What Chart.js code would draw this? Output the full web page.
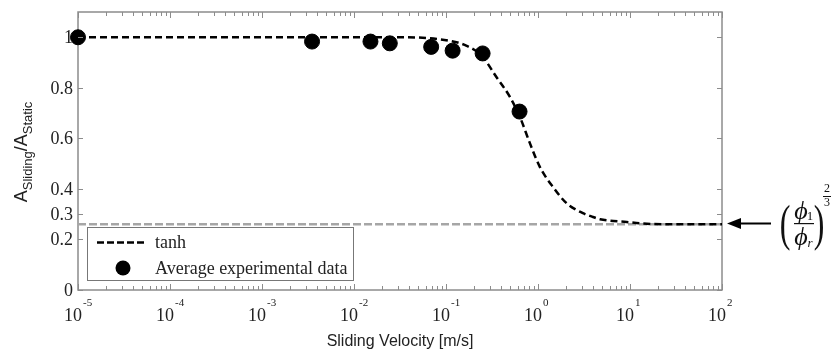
<!DOCTYPE html>
<html>
<head>
<meta charset="utf-8">
<script src="https://cdn.jsdelivr.net/npm/chart.js@4.4.1/dist/chart.umd.min.js"></script>
<style>
  body { margin: 0; background: #fff; }
  #wrap { width: 832px; height: 353px; }
</style>
</head>
<body>
<div id="wrap"><canvas id="grafico" width="832" height="353"></canvas></div>
<script>
// Datos
const velExp = [1e-5, 0.0035, 0.0151, 0.0245, 0.069, 0.118, 0.25, 0.63];
const areaExp = [1.0, 0.983, 0.983, 0.976, 0.962, 0.947, 0.936, 0.706];

const velTanh = [1e-5, 1e-3, 0.01, 0.0316, 0.11, 0.168, 0.244, 0.356, 0.497, 0.637, 0.818, 1.05, 1.46, 2.05, 3.08, 3.96, 4.72, 9.2, 13.8, 30, 100];
const areaTanh = [1.0, 1.0, 1.0, 1.0, 0.986, 0.966, 0.927, 0.841, 0.763, 0.684, 0.58, 0.486, 0.407, 0.343, 0.304, 0.289, 0.28, 0.269, 0.263, 0.26, 0.26];

const limiteVel = [1e-5, 1e2];
const limiteArea = [0.26, 0.26];

const ticksY = [0, 0.2, 0.3, 0.4, 0.6, 0.8, 1];
const decadas = [-5, -4, -3, -2, -1, 0, 1, 2];

const serif = "'Liberation Serif', 'Times New Roman', serif";
const sans = "'Liberation Sans', Arial, sans-serif";

// Se arma el marco, ticks y textos a mano
const ejesPlugin = {
    id: 'ejes',
    beforeDatasetsDraw(chart) {
        const { ctx, chartArea: a } = chart;
        ctx.save();
        ctx.strokeStyle = '#8c8c8c';
        ctx.lineWidth = 1.5;
        ctx.strokeRect(a.left, a.top, a.right - a.left, a.bottom - a.top);
        ctx.restore();
    },
    afterDraw(chart) {
        const { ctx, chartArea: a, scales } = chart;
        const x = scales.x, y = scales.y;
        ctx.save();
        ctx.strokeStyle = '#8c8c8c';
        ctx.lineWidth = 1;

        // ticks eje x (log)
        decadas.forEach((d, i) => {
            const px = Math.round(x.getPixelForValue(Math.pow(10, d))) + 0.5;
            ctx.beginPath();
            ctx.moveTo(px, a.bottom); ctx.lineTo(px, a.bottom - 6);
            ctx.moveTo(px, a.top); ctx.lineTo(px, a.top + 6);
            ctx.stroke();
            if (i < decadas.length - 1) {
                for (let m = 2; m <= 9; m++) {
                    const pm = Math.round(x.getPixelForValue(m * Math.pow(10, d))) + 0.5;
                    ctx.beginPath();
                    ctx.moveTo(pm, a.bottom); ctx.lineTo(pm, a.bottom - 4);
                    ctx.moveTo(pm, a.top); ctx.lineTo(pm, a.top + 4);
                    ctx.stroke();
                }
            }
        });

        // ticks eje y
        ticksY.forEach(v => {
            const py = Math.round(y.getPixelForValue(v)) + 0.5;
            ctx.beginPath();
            ctx.moveTo(a.left, py); ctx.lineTo(a.left + 5, py);
            ctx.moveTo(a.right, py); ctx.lineTo(a.right - 5, py);
            ctx.stroke();
        });

        // etiquetas eje y
        ctx.fillStyle = '#222';
        ctx.font = '18px ' + serif;
        ctx.textAlign = 'right';
        ctx.textBaseline = 'middle';
        ticksY.forEach(v => {
            ctx.fillText(String(v), a.left - 5, y.getPixelForValue(v) + 1);
        });

        // etiquetas eje x: 10 con exponente
        ctx.textBaseline = 'alphabetic';
        decadas.forEach(d => {
            const px = x.getPixelForValue(Math.pow(10, d));
            ctx.font = '18px ' + serif;
            ctx.textAlign = 'right';
            ctx.fillText('10', px + 4, 321);
            ctx.font = '11px ' + serif;
            ctx.textAlign = 'left';
            ctx.fillText(String(d), px + 5, 306);
        });

        // titulo eje x
        ctx.font = '16px ' + sans;
        ctx.textAlign = 'center';
        ctx.fillText('Sliding Velocity [m/s]', (a.left + a.right) / 2, 346);

        // titulo eje y con subindices
        ctx.translate(27, 152);
        ctx.rotate(-Math.PI / 2);
        const partes = [['A', 18, 0], ['Sliding', 13, 5], ['/A', 18, 0], ['Static', 13, 5]];
        let ancho = 0;
        partes.forEach(p => { ctx.font = p[1] + 'px ' + sans; ancho += ctx.measureText(p[0]).width; });
        let cx = -ancho / 2;
        ctx.textAlign = 'left';
        partes.forEach(p => {
            ctx.font = p[1] + 'px ' + sans;
            ctx.fillText(p[0], cx, p[2]);
            cx += ctx.measureText(p[0]).width;
        });
        ctx.setTransform(1, 0, 0, 1, 0, 0);

        // leyenda
        ctx.fillStyle = '#fff';
        ctx.fillRect(88, 228, 266, 53);
        ctx.strokeStyle = '#777';
        ctx.lineWidth = 1;
        ctx.strokeRect(87.5, 227.5, 266, 53);
        ctx.strokeStyle = '#000';
        ctx.lineWidth = 2.5;
        ctx.setLineDash([7, 3]);
        ctx.beginPath();
        ctx.moveTo(97, 242.5); ctx.lineTo(147, 242.5);
        ctx.stroke();
        ctx.setLineDash([]);
        ctx.fillStyle = '#000';
        ctx.beginPath();
        ctx.arc(123, 268, 7.5, 0, Math.PI * 2);
        ctx.fill();
        ctx.fillStyle = '#222';
        ctx.font = '18px ' + serif;
        ctx.fillText('tanh', 155, 248);
        ctx.fillText('Average experimental data', 155, 274);

        // flecha y formula de la derecha
        ctx.strokeStyle = '#000';
        ctx.lineWidth = 2;
        ctx.beginPath();
        ctx.moveTo(771, 223.5); ctx.lineTo(738, 223.5);
        ctx.stroke();
        ctx.fillStyle = '#000';
        ctx.beginPath();
        ctx.moveTo(727, 223.5); ctx.lineTo(741, 218); ctx.lineTo(741, 229); ctx.closePath();
        ctx.fill();

        ctx.fillStyle = '#111';
        ctx.textBaseline = 'middle';
        ctx.textAlign = 'center';
        // parentesis estirados en vertical
        ctx.save();
        ctx.translate(0, 227);
        ctx.scale(1, 1.55);
        ctx.font = '32px ' + serif;
        ctx.fillText('(', 785, 0);
        ctx.fillText(')', 819, 0);
        ctx.restore();
        ctx.font = 'italic 26px ' + serif;
        ctx.fillText('\u03D5', 801, 212);
        ctx.fillText('\u03D5', 801, 238);
        ctx.font = '13px ' + serif;
        ctx.fillText('1', 810, 217);
        ctx.font = 'italic 13px ' + serif;
        ctx.fillText('r', 810, 244);
        ctx.fillRect(794, 223, 20, 1.2);
        ctx.font = '12px ' + serif;
        ctx.fillText('2', 827, 189);
        ctx.fillText('3', 827, 203);
        ctx.fillRect(823, 196, 8, 1);
        ctx.restore();
    }
};

new Chart(document.getElementById('grafico'), {
    type: 'scatter',
    data: {
        datasets: [
            {
                label: 'Average experimental data',
                data: velExp.map((v, i) => ({ x: v, y: areaExp[i] })),
                backgroundColor: '#000',
                borderColor: '#000',
                pointRadius: 7.5,
                pointHoverRadius: 7.5,
                clip: false,
                order: 0
            },
            {
                label: 'tanh',
                data: velTanh.map((v, i) => ({ x: v, y: areaTanh[i] })),
                showLine: true,
                borderColor: '#000',
                borderWidth: 2.5,
                borderDash: [7, 4],
                pointRadius: 0,
                cubicInterpolationMode: 'monotone',
                order: 1
            },
            {
                label: 'limite',
                data: limiteVel.map((v, i) => ({ x: v, y: limiteArea[i] })),
                showLine: true,
                borderColor: '#a6a6a6',
                borderWidth: 2.5,
                borderDash: [8, 3],
                pointRadius: 0,
                order: 2
            }
        ]
    },
    options: {
        responsive: false,
        animation: false,
        devicePixelRatio: 1,
        layout: { padding: { left: 78, right: 110, top: 12, bottom: 63 } },
        plugins: { legend: { display: false }, tooltip: { enabled: false } },
        scales: {
            x: { type: 'logarithmic', min: 1e-5, max: 1e2, display: false },
            y: { type: 'linear', min: 0, max: 1.1, display: false }
        }
    },
    plugins: [ejesPlugin]
});
</script>
</body>
</html>
